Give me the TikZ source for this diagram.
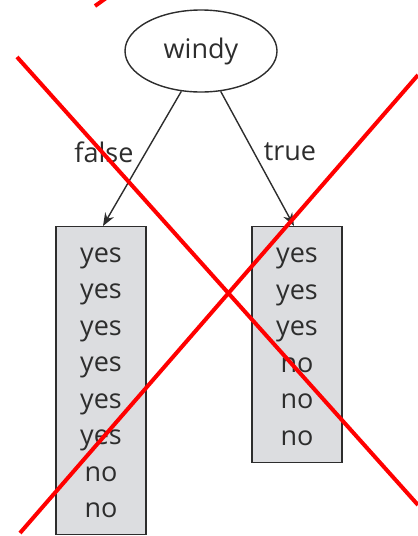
\documentclass[tikz,border=0pt]{standalone}
\usepackage{fontspec}
\setmainfont{Open Sans}
\usetikzlibrary{shapes.geometric,arrows.meta}
\definecolor{ink}{RGB}{45,45,45}
\definecolor{boxfill}{RGB}{220,221,224}
\begin{document}
\begin{tikzpicture}[x=1pt,y=-1pt,
  txt/.style={font=\fontsize{27}{36.5}\selectfont, text=ink},
  leaf/.style={draw=ink, line width=1.4pt, fill=boxfill, rectangle, inner sep=0pt, minimum width=90pt, anchor=north},
  edge/.style={draw=ink, line width=1.4pt, -{Stealth[length=13pt,width=10pt]}},
  cross/.style={draw=red, line width=4pt}]
\useasboundingbox (0,0) rectangle (418,536);
\node[draw=ink, line width=1.4pt, ellipse, minimum width=152pt, minimum height=82pt, inner sep=0pt, txt] (windy) at (201,51) {windy};
\node[leaf, minimum height=308pt] (L) at (101,226) {};
\node[leaf, minimum height=236pt] (R) at (297,226) {};
\node[txt, align=center] (Ltxt) at ([yshift=-2pt]L.center) {yes\\yes\\yes\\yes\\yes\\yes\\no\\no};
\node[txt, align=center] (Rtxt) at ([yshift=-2pt]R.center) {yes\\yes\\yes\\no\\no\\no};
\draw[edge] (windy.-116) -- ([xshift=2pt]L.north);
\draw[edge] (windy.-64) -- ([xshift=-3pt]R.north);
\node[txt] (f) at (104,152) {false};
\node[txt] (t) at (290,152) {true};
\coordinate (a1) at (17,57);
\coordinate (a2) at (418,505);
\coordinate (b1) at (20,533);
\coordinate (b2) at (418,75);
\coordinate (c1) at (95,6);
\coordinate (c2) at (109,-4);
\draw[cross] (a1) -- (a2);
\draw[cross] (b1) -- (b2);
\draw[cross] (c1) -- (c2);
\end{tikzpicture}
\end{document}
